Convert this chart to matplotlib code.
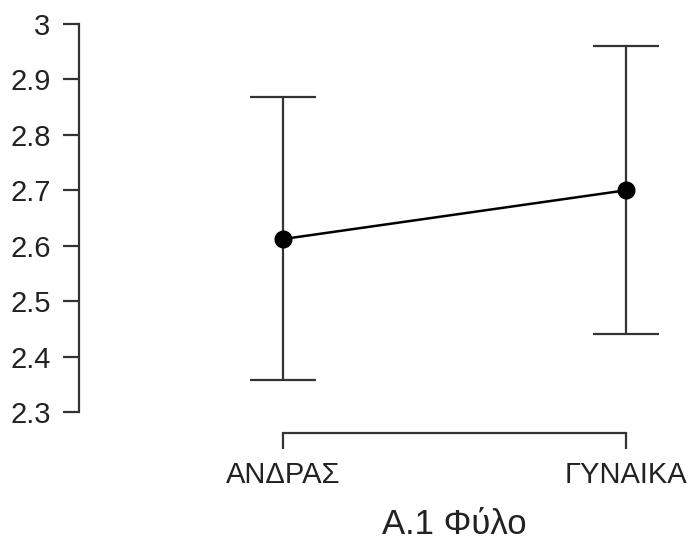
import matplotlib
matplotlib.use("Agg")
import matplotlib.pyplot as plt

categories = ["ΑΝΔΡΑΣ", "ΓΥΝΑΙΚΑ"]
means = [2.612, 2.700]
lower = [2.358, 2.441]
upper = [2.868, 2.960]
yticks = [2.3, 2.4, 2.5, 2.6, 2.7, 2.8, 2.9, 3.0]
ytick_labels = ["2.3", "2.4", "2.5", "2.6", "2.7", "2.8", "2.9", "3"]
xlabel = "A.1 Φύλο"

plt.rcParams['font.family'] = ['Liberation Sans', 'DejaVu Sans']

W, H = 689, 543
fig = plt.figure(figsize=(W / 100, H / 100), dpi=100)
left_px, right_px, top_px, bottom_px = 79, 680, 18, 433
ax = fig.add_axes([left_px / W, 1 - bottom_px / H, (right_px - left_px) / W, (bottom_px - top_px) / H])

x = list(range(len(categories)))
yerr = [[m - l for m, l in zip(means, lower)], [u - m for m, u in zip(means, upper)]]
ax.errorbar(x, means, yerr=yerr, fmt='none', ecolor='#333333', elinewidth=1.6,
            capsize=24, capthick=1.6, zorder=2)
ax.plot(x, means, color='black', linewidth=1.8, zorder=3)
ax.plot(x, means, 'o', color='black', markersize=12, zorder=4)

px_per_unit_x = 626 - 283
xmin = -(283 - left_px) / px_per_unit_x
xmax = 1 + (right_px - 626) / px_per_unit_x
ax.set_xlim(xmin, xmax)
px_per_unit_y = (412 - 24) / 0.7
ax.set_ylim(2.3 - (bottom_px - 412) / px_per_unit_y, 3.0 + (24 - top_px) / px_per_unit_y)

for s in ['top', 'right']:
    ax.spines[s].set_visible(False)
ax.spines['left'].set_bounds(2.3, 3.0)
ax.spines['bottom'].set_bounds(0, 1)
for s in ['left', 'bottom']:
    ax.spines[s].set_color('#333333')
    ax.spines[s].set_linewidth(1.6)

ax.set_yticks(yticks)
ax.set_yticklabels(ytick_labels)
ax.set_xticks(x)
ax.set_xticklabels(categories)
ax.tick_params(axis='both', colors='#333333', width=1.6, length=11.5, labelsize=21,
               labelcolor='#222222')
ax.tick_params(axis='y', pad=9)
ax.tick_params(axis='x', pad=9)
ax.set_xlabel(xlabel, fontsize=25, color='#222222', labelpad=13)
mid = (x[0] + x[-1]) / 2
ax.xaxis.label.set_x((mid - xmin) / (xmax - xmin))

fig.savefig("out.png", dpi=100)
